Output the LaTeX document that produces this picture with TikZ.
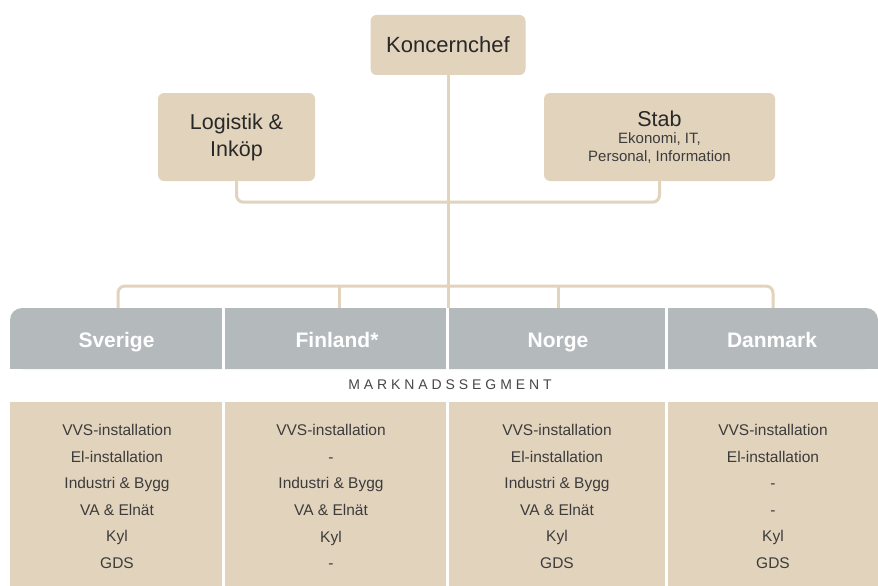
\documentclass[tikz,border=0pt]{standalone}
\usepackage{fontspec}
\setmainfont{Liberation Sans}
\newfontfamily\spacedfont[LetterSpace=28]{Liberation Sans}
\definecolor{beige}{RGB}{226,211,189}
\definecolor{bandgrey}{RGB}{180,186,188}
\definecolor{txt}{RGB}{40,40,40}
\definecolor{subtxt}{RGB}{60,60,60}
\definecolor{segtxt}{RGB}{70,70,70}
\begin{document}
\begin{tikzpicture}[x=1pt,y=-1pt,
 box/.style={fill=beige, rounded corners=6pt, text=txt, align=center, inner sep=0pt},
 conn/.style={draw=beige, line width=3pt, rounded corners=7pt},
 hdr/.style={text=white, font=\fontsize{21}{24}\selectfont\bfseries, text height=15pt, text depth=4.5pt, inner sep=0pt},
 cell/.style={text=subtxt, font=\fontsize{15.5}{26.6}\selectfont, align=center, inner sep=0pt},
 divider/.style={draw=white, line width=3pt}]
\useasboundingbox (0,0) rectangle (878,586);
% top boxes
\node[box, minimum width=155pt, minimum height=60pt, font=\fontsize{22}{24}\selectfont] (kc) at (448,45) {Koncernchef};
\node[box, minimum width=157pt, minimum height=88pt, font=\fontsize{21.5}{27}\selectfont] (log) at (236.5,137) {Logistik \&\\Inköp};
\node[box, minimum width=231pt, minimum height=88pt] (stab) at (659.5,137) {};
\node[text=txt, font=\fontsize{21.5}{24}\selectfont, inner sep=0pt] (stabt) at (659.5,119) {Stab};
\node[text=subtxt, font=\fontsize{15}{18}\selectfont, align=center, inner sep=0pt] (stabs) at (659.5,148) {Ekonomi, IT,\\Personal, Information};
% bands
\fill[bandgrey, rounded corners=12pt] (10,308) rectangle (878,369);
\fill[bandgrey] (10,330) rectangle (878,369);
\fill[beige] (10,402) rectangle (878,586);
% headers
\node[hdr] (sv) at (116.5,342) {Sverige};
\node[hdr] (fi) at (337,342) {Finland*};
\node[hdr] (no) at (558,342) {Norge};
\node[hdr] (dk) at (772,342) {Danmark};
% connector anchors on the band top
\coordinate (svt) at (118,308);
\coordinate (fit) at (339,308);
\coordinate (not) at (558,308);
\coordinate (dkt) at (773,308);
% connectors
\draw[conn] (log.south) -- ++(0,21) -| (stab.south);
\draw[conn] (kc.south) -- (kc.south |- not);
\draw[conn] (svt) -- ++(0,-22) -| (dkt);
\draw[conn] (fit) -- ++(0,-22);
\draw[conn] (not) -- ++(0,-22);
% dividers
\draw[divider] (223.5,308) -- (223.5,586);
\draw[divider] (447.5,308) -- (447.5,586);
\draw[divider] (666.5,308) -- (666.5,586);
% segment label
\node[font=\spacedfont\fontsize{14}{16}\selectfont, text=segtxt] (seg) at (450,385) {MARKNADSSEGMENT};
% cells
\node[cell] (c1) at (117,496.5) {VVS-installation\\El-installation\\Industri \& Bygg\\VA \& Elnät\\Kyl\\GDS};
\node[cell] (c2) at (331,496.5) {VVS-installation\\-\\Industri \& Bygg\\VA \& Elnät\\Kyl\\-};
\node[cell] (c3) at (557,496.5) {VVS-installation\\El-installation\\Industri \& Bygg\\VA \& Elnät\\Kyl\\GDS};
\node[cell] (c4) at (773,496.5) {VVS-installation\\El-installation\\-\\-\\Kyl\\GDS};
\end{tikzpicture}
\end{document}
